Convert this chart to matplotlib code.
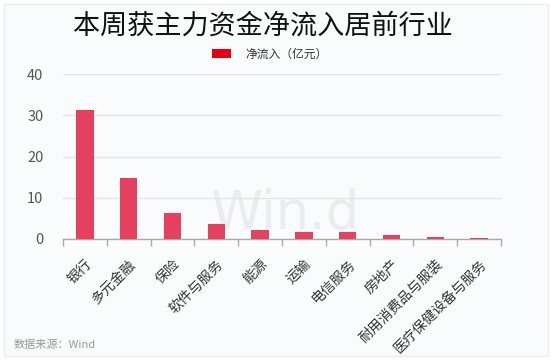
import matplotlib
matplotlib.use("Agg")
import matplotlib.pyplot as plt
from matplotlib.patches import Rectangle, Patch
import numpy as np

plt.rcParams['font.family'] = ['Noto Sans CJK SC', 'DejaVu Sans']

categories = ["银行", "多元金融", "保险", "软件与服务", "能源", "运输", "电信服务", "房地产", "耐用消费品与服装", "医疗保健设备与服务"]
values = [31.3, 14.7, 6.4, 3.6, 2.3, 1.8, 1.8, 1.0, 0.5, 0.3]
yticks = [0, 10, 20, 30, 40]
title = "本周获主力资金净流入居前行业"
legend_label = "净流入（亿元）"
source = "数据来源：Wind"

W, H = 554, 362
fig = plt.figure(figsize=(W / 100, H / 100), dpi=100)
fig.patch.set_facecolor("white")
bg = Rectangle((4 / W, 1 - 356 / H), 544 / W, 352 / H, transform=fig.transFigure,
               facecolor="#fafbfd", edgecolor="#eceef2", linewidth=1, zorder=-10)
fig.add_artist(bg)

ax = fig.add_axes([63 / W, 1 - 239 / H, 438 / W, 165 / H])
ax.set_zorder(5)
ax.set_facecolor("none")
x = np.arange(len(categories))
ax.bar(x, values, width=0.4, color="#e5405e", zorder=3)
ax.set_xlim(-0.5, len(categories) - 0.5)
ax.set_ylim(0, 40)
ax.set_yticks(yticks)
ax.set_yticklabels([str(v) for v in yticks], fontsize=10.5, color="#555555")
ax.tick_params(axis="y", length=0, pad=14)
ax.grid(axis="y", color="#e4e5e8", linewidth=1, zorder=0)
for s in ["top", "right", "left"]:
    ax.spines[s].set_visible(False)
ax.spines["bottom"].set_color("#aaaaaa")
ax.spines["bottom"].set_linewidth(1)

ax.set_xticks(x)
ax.set_xticklabels(categories, rotation=45, ha="right", va="top", rotation_mode="anchor",
                   fontsize=10, color="#333333")
ax.tick_params(axis="x", which="major", length=0, pad=13)
ax.set_xticks(np.arange(-0.5, len(categories)), minor=True)
ax.tick_params(axis="x", which="minor", length=5, color="#aaaaaa", width=1)

ax.text(0.507, 0.15, "Win.d", transform=ax.transAxes, ha="center", va="center", fontsize=38,
        color="#e6e7ea", alpha=0.75, zorder=1, family="DejaVu Sans")

fig.text(263 / W, 1 - 26 / H, title, ha="center", va="center", fontsize=19.5, color="#111111")
fig.legend(handles=[Patch(facecolor="#e60012", edgecolor="none")], labels=[legend_label],
           loc="center", bbox_to_anchor=(270 / W, 1 - 54 / H), frameon=False, fontsize=8.5,
           handlelength=1.6, handleheight=0.8, handletextpad=1.2, labelcolor="#333333")

fig.text(14 / W, 1 - 345 / H, source, ha="left", va="center", fontsize=8, color="#999999")

fig.savefig("out.png", dpi=100, facecolor=fig.get_facecolor())
